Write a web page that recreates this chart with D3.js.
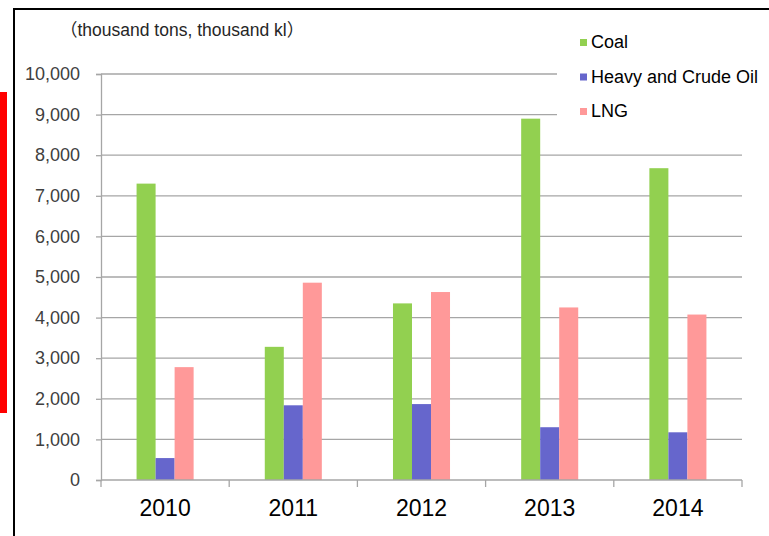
<!DOCTYPE html>
<html>
<head>
<meta charset="utf-8">
<script src="https://cdn.jsdelivr.net/npm/d3@7"></script>
<style>
  body { margin: 0; background: #fff; }
  svg { display: block; font-family: "Liberation Sans", Arial, sans-serif; }
</style>
</head>
<body>
<div id="chart"></div>
<script>
const years = ["2010", "2011", "2012", "2013", "2014"];
const seriesNames = ["Coal", "Heavy and Crude Oil", "LNG"];
const coal = [7300, 3280, 4350, 8900, 7680];
const oil = [540, 1840, 1870, 1300, 1175];
const lng = [2780, 4860, 4630, 4250, 4075];
const colors = ["#92d050", "#6666cc", "#ff9999"];
const yTicks = [0, 1000, 2000, 3000, 4000, 5000, 6000, 7000, 8000, 9000, 10000];

const width = 769, height = 536;
const plotLeft = 101, plotRight = 742, plotTop = 74, plotBottom = 480;

const svg = d3.select("#chart").append("svg")
  .attr("width", width)
  .attr("height", height);

// red marker on the left edge
svg.append("rect")
  .attr("x", 0).attr("y", 92)
  .attr("width", 7).attr("height", 321)
  .attr("fill", "#ff0000");

// outer frame
svg.append("rect")
  .attr("x", 14).attr("y", 9)
  .attr("width", 800).attr("height", 600)
  .attr("fill", "#fff")
  .attr("stroke", "#000")
  .attr("stroke-width", 2);

const y = d3.scaleLinear().domain([0, 10000]).range([plotBottom, plotTop]);
const x0 = d3.scaleBand().domain(years).range([plotLeft, plotRight]).padding(0);
const groupW = x0.bandwidth() * 0.445;
const x1 = d3.scaleBand().domain(seriesNames)
  .range([(x0.bandwidth() - groupW) / 2, (x0.bandwidth() + groupW) / 2]);

// gridlines
svg.append("g")
  .selectAll("line")
  .data(yTicks.filter(d => d > 0))
  .enter().append("line")
    .attr("x1", plotLeft).attr("x2", plotRight)
    .attr("y1", d => y(d)).attr("y2", d => y(d))
    .attr("stroke", "#a6a6a6")
    .attr("stroke-width", 1.3);

// y axis
const yAxis = svg.append("g")
  .attr("transform", "translate(" + plotLeft + ",0)")
  .call(d3.axisLeft(y).tickValues(yTicks).tickSize(5).tickPadding(16)
    .tickFormat(d3.format(",")));
yAxis.select(".domain").attr("stroke", "#a6a6a6").attr("stroke-width", 1.3);
yAxis.selectAll(".tick line").attr("stroke", "#a6a6a6").attr("stroke-width", 1.3);
yAxis.selectAll("text")
  .attr("fill", "#404040")
  .style("font-size", "18px");

// bars
const rows = years.map((yr, i) => ({ year: yr, values: [coal[i], oil[i], lng[i]] }));
svg.append("g")
  .selectAll("g")
  .data(rows)
  .enter().append("g")
    .attr("transform", d => "translate(" + x0(d.year) + ",0)")
  .selectAll("rect")
  .data(d => d.values.map((v, j) => ({ name: seriesNames[j], value: v, color: colors[j] })))
  .enter().append("rect")
    .attr("x", d => x1(d.name))
    .attr("width", x1.bandwidth())
    .attr("y", d => y(d.value))
    .attr("height", d => y(0) - y(d.value))
    .attr("fill", d => d.color);

// x axis
const xAxis = svg.append("g")
  .attr("transform", "translate(0," + plotBottom + ")")
  .call(d3.axisBottom(x0).tickSize(0).tickPadding(20));
xAxis.select(".domain").remove();
xAxis.selectAll("text")
  .attr("fill", "#000")
  .style("font-size", "23px");
svg.append("line")
  .attr("x1", plotLeft).attr("x2", plotRight)
  .attr("y1", plotBottom).attr("y2", plotBottom)
  .attr("stroke", "#a6a6a6").attr("stroke-width", 1.3);
svg.append("g")
  .selectAll("line")
  .data(years.concat(["end"]))
  .enter().append("line")
    .attr("x1", (d, i) => i < years.length ? x0(d) : plotRight)
    .attr("x2", (d, i) => i < years.length ? x0(d) : plotRight)
    .attr("y1", plotBottom).attr("y2", plotBottom + 7)
    .attr("stroke", "#a6a6a6").attr("stroke-width", 1.3);

// unit label
const unit = svg.append("text")
  .attr("x", 60).attr("y", 36)
  .attr("fill", "#262626")
  .style("font-size", "17.5px");
unit.append("tspan").style("font-family", "'Noto Sans CJK JP'").text("（");
unit.append("tspan").text("thousand tons, thousand kl");
unit.append("tspan").style("font-family", "'Noto Sans CJK JP'").text("）");

// legend
const legend = svg.append("g");
legend.append("rect")
  .attr("x", 557).attr("y", 22)
  .attr("width", 211).attr("height", 110)
  .attr("fill", "#fff");
const item = legend.selectAll("g.item")
  .data(seriesNames)
  .enter().append("g")
    .attr("class", "item")
    .attr("transform", (d, i) => "translate(580," + (48 + i * 34.5) + ")");
item.append("rect")
  .attr("x", 0).attr("y", -9)
  .attr("width", 7).attr("height", 7)
  .attr("fill", (d, i) => colors[i]);
item.append("text")
  .attr("x", 11).attr("y", 0)
  .attr("fill", "#000")
  .style("font-size", "18px")
  .text(d => d);
</script>
</body>
</html>
